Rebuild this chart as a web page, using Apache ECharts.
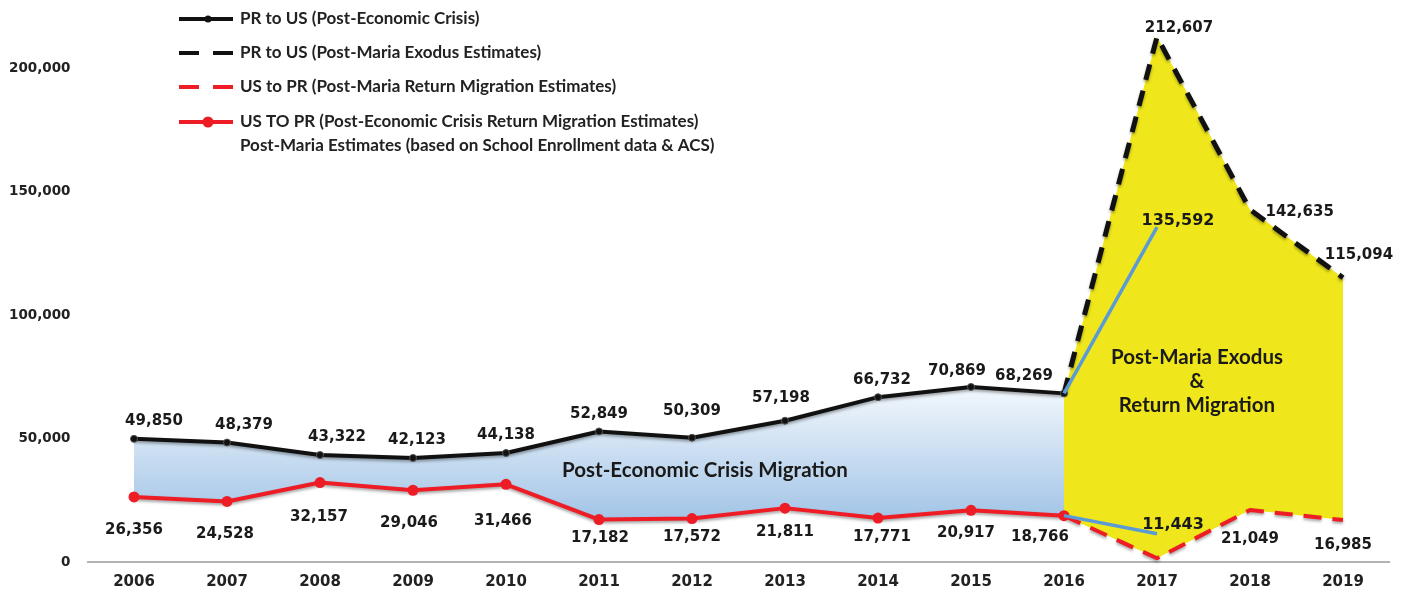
<!DOCTYPE html>
<html>
<head>
<meta charset="utf-8">
<script src="https://cdn.jsdelivr.net/npm/echarts@6/dist/echarts.min.js"></script>
<style>
html,body{margin:0;padding:0;background:#fff;}
#chart{width:1407px;height:595px;}
</style>
</head>
<body>
<div id="chart"></div>
<script>
// ---- data ----
const years = ['2006','2007','2008','2009','2010','2011','2012','2013','2014','2015','2016','2017','2018','2019'];
const prToUsCrisis = [49850,48379,43322,42123,44138,52849,50309,57198,66732,70869,68269,null,null,null];
const prToUsMaria  = [null,null,null,null,null,null,null,null,null,null,68269,212607,142635,115094];
const usToPrMaria  = [null,null,null,null,null,null,null,null,null,null,18766,1500,21049,16985];
const usToPrCrisis = [26356,24528,32157,29046,31466,17182,17572,21811,17771,20917,18766,null,null,null];
const schoolHigh   = [null,null,null,null,null,null,null,null,null,null,68269,135592,null,null];
const schoolLow    = [null,null,null,null,null,null,null,null,null,null,18766,11443,null,null];
const yTickInterval = 50000;

const legendNames = [
  'PR to US (Post-Economic Crisis)',
  'PR to US (Post-Maria Exodus Estimates)',
  'US to PR (Post-Maria Return Migration Estimates)',
  'US TO PR (Post-Economic Crisis Return Migration Estimates)'
];
const legendNote = 'Post-Maria Estimates (based on School Enrollment data & ACS)';
const areaLabel1 = 'Post-Economic Crisis Migration';
const areaLabel2 = 'Post-Maria Exodus\n&\nReturn Migration';

// ---- layout helpers (label nudges, not data) ----
const blackNudge = [[20,0],[17,0],[17,0],[4,0],[0,0],[0,0],[0,-9],[-4,-5],[4,0],[-14,2],[-40,0]];
const redNudge   = [[0,14],[-2,14],[-1,16],[-4,14],[-3,18],[1,0],[0,0],[0,5],[4,0],[-5,4],[-24,2]];
const exodusNudge = {11:['top',[22,4]], 12:['right',[10,2]], 13:['top',[16,-10]]};
const returnNudge = {12:['bottom',[0,3]], 13:['bottom',[0,-1]]};

const fmt = v => Number(v).toLocaleString('en-US');
const labelFont = {fontFamily:'DejaVu Sans', fontWeight:'bold', fontSize:15, color:'#1a1a1a'};
const legendFont = {fontFamily:'Lato', fontWeight:'bold', fontSize:17, fill:'#222'};
const BLACK = '#111', RED = '#ee1c25', BLUE = '#5b9bd5', YELLOW = '#efe71b';

const diff = (a,b) => a.map((v,i) => (v==null||b[i]==null) ? null : v - b[i]);

function nudged(values, nudges, pos){
  return values.map((v,i) => {
    if (v == null) return null;
    const n = nudges[i] || [0,0];
    return {value:v, label:{show:true, position:pos, offset:n}};
  });
}
function picked(values, map){
  return values.map((v,i) => {
    if (v == null) return null;
    if (map[i]) return {value:v, label:{show:true, position:map[i][0], offset:map[i][1]}};
    return {value:v, label:{show:false}};
  });
}

const shadow = {shadowColor:'rgba(0,0,0,0.35)', shadowBlur:3, shadowOffsetY:2};

// ---- hand-drawn legend (graphic) ----
const lx0 = 179, lx1 = 233, ldot = 208, ltext = 240;
const rowY = [19, 53, 87, 122, 146];
const legendGraphic = [];
const legendDefs = [
  {color:BLACK, dash:null, dot:3.5},
  {color:BLACK, dash:[20,14], dot:0},
  {color:RED,   dash:[20,14], dot:0},
  {color:RED,   dash:null, dot:5.5}
];
legendDefs.forEach((d,i) => {
  legendGraphic.push({type:'line', shape:{x1:lx0, y1:rowY[i], x2:lx1, y2:rowY[i]},
    style:{stroke:d.color, lineWidth:4, lineDash:d.dash || null}});
  if (d.dot) legendGraphic.push({type:'circle', shape:{cx:ldot, cy:rowY[i], r:d.dot}, style:{fill:d.color}});
  legendGraphic.push({type:'text', x:ltext, y:rowY[i], style:{text:legendNames[i], ...legendFont, verticalAlign:'middle'}});
});
legendGraphic.push({type:'text', x:ltext, y:rowY[4], style:{text:legendNote, ...legendFont, verticalAlign:'middle'}});

const chart = echarts.init(document.getElementById('chart'));
chart.setOption({
  animation:false,
  backgroundColor:'#fff',
  grid:{left:87.5, right:17.5, top:18.6, bottom:33, containLabel:false},
  xAxis:{
    type:'category', data:years, boundaryGap:true,
    axisLine:{lineStyle:{color:'#9a9a9a', width:1.5}},
    axisTick:{alignWithLabel:true, length:6, lineStyle:{color:'#9a9a9a'}},
    axisLabel:{margin:13, fontFamily:'DejaVu Sans', fontWeight:'bold', fontSize:15, color:'#222'}
  },
  yAxis:{
    type:'value', min:0, max:220000, interval:yTickInterval,
    axisLine:{show:false}, axisTick:{show:false}, splitLine:{show:false},
    axisLabel:{showMaxLabel:false, margin:17, formatter:v=>fmt(v), fontFamily:'DejaVu Sans', fontWeight:'bold', fontSize:13.5, color:'#222'}
  },
  graphic:[
    ...legendGraphic,
    {type:'text', x:705, y:470, z:100, style:{text:areaLabel1, fontFamily:'Lato', fontWeight:'bold', fontSize:20.5, fill:'#1a1a1a', align:'center', verticalAlign:'middle'}},
    {type:'text', x:1197, y:381, z:100, style:{text:areaLabel2, fontFamily:'Lato', fontWeight:'bold', fontSize:20.5, lineHeight:24, fill:'#1a1a1a', align:'center', verticalAlign:'middle'}}
  ],
  series:[
    {name:'blueBase', type:'line', stack:'blue', data:usToPrCrisis, symbol:'none', lineStyle:{width:0}, silent:true, z:1},
    {name:'blueArea', type:'line', stack:'blue', data:diff(prToUsCrisis, usToPrCrisis), symbol:'none', lineStyle:{width:0}, silent:true, z:1,
      areaStyle:{opacity:1, color:new echarts.graphic.LinearGradient(0,0,0,1,[{offset:0,color:'#f3f8fd'},{offset:1,color:'#a2c4e6'}])}},
    {name:'yellowBase', type:'line', stack:'yellow', data:usToPrMaria, symbol:'none', lineStyle:{width:0}, silent:true, z:1},
    {name:'yellowArea', type:'line', stack:'yellow', data:diff(prToUsMaria, usToPrMaria), symbol:'none', lineStyle:{width:0}, silent:true, z:1,
      areaStyle:{opacity:1, color:YELLOW}},
    {name:legendNames[0], type:'line', data:nudged(prToUsCrisis, blackNudge, 'top'), z:5,
      symbol:'circle', symbolSize:7, itemStyle:{color:BLACK, borderColor:'#555', borderWidth:1},
      lineStyle:{color:BLACK, width:4, ...shadow},
      label:{show:true, position:'top', distance:6, formatter:p=>fmt(p.value), ...labelFont}},
    {name:legendNames[1], type:'line', data:picked(prToUsMaria, exodusNudge), z:5,
      symbol:'circle', symbolSize:1, itemStyle:{color:'transparent'},
      lineStyle:{color:BLACK, width:5, type:[16,11], ...shadow},
      label:{show:true, distance:5, formatter:p=>fmt(p.value), ...labelFont}},
    {name:legendNames[2], type:'line', data:picked(usToPrMaria, returnNudge), z:5,
      symbol:'circle', symbolSize:1, itemStyle:{color:'transparent'},
      lineStyle:{color:RED, width:4, type:[18,11], ...shadow},
      label:{show:true, position:'bottom', distance:18, formatter:p=>fmt(p.value), ...labelFont}},
    {name:legendNames[3], type:'line', data:nudged(usToPrCrisis, redNudge, 'bottom'), z:5,
      symbol:'circle', symbolSize:11, itemStyle:{color:RED},
      lineStyle:{color:RED, width:4, ...shadow},
      label:{show:true, position:'bottom', distance:6, formatter:p=>fmt(p.value), ...labelFont}},
    {name:'School enrollment (high)', type:'line', data:picked(schoolHigh, {11:['top',[21,6]]}), z:6,
      symbol:'circle', symbolSize:1, itemStyle:{color:'transparent'},
      lineStyle:{color:BLUE, width:3.5},
      label:{show:true, distance:4, formatter:p=>fmt(p.value), ...labelFont, fontSize:16}},
    {name:'School enrollment (low)', type:'line', data:picked(schoolLow, {11:['top',[16,4]]}), z:6,
      symbol:'circle', symbolSize:1, itemStyle:{color:'transparent'},
      lineStyle:{color:BLUE, width:3.5},
      label:{show:true, distance:4, formatter:p=>fmt(p.value), ...labelFont, fontSize:16}}
  ]
});
</script>
</body>
</html>
